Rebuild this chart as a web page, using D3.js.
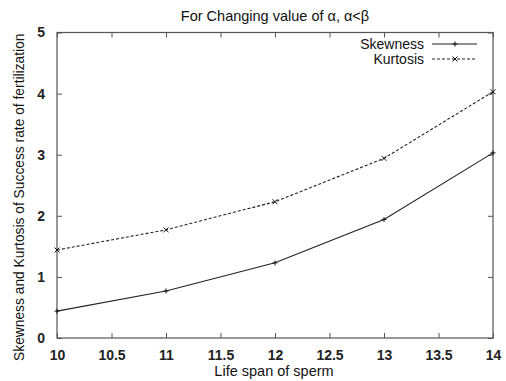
<!DOCTYPE html>
<html>
<head>
<meta charset="utf-8">
<script src="https://cdn.jsdelivr.net/npm/d3@7"></script>
<style>
  body { margin: 0; background: #fff; }
  svg { display: block; font-family: "Liberation Sans", Arial, sans-serif; }
</style>
</head>
<body>
<svg id="chart" width="506" height="381"></svg>
<script>
// Life span of sperm (x) and the measured statistics
const lifeSpan = [10, 11, 12, 13, 14];
const skewness = [0.44, 0.77, 1.23, 1.94, 3.03];
const kurtosis = [1.44, 1.77, 2.23, 2.94, 4.03];
const xTicks = [10, 10.5, 11, 11.5, 12, 12.5, 13, 13.5, 14];
const yTicks = [0, 1, 2, 3, 4, 5];

const svg = d3.select("#chart");
const m = { left: 57, right: 493, top: 32.5, bottom: 338 };

const x = d3.scaleLinear().domain([10, 14]).range([m.left, m.right]);
const y = d3.scaleLinear().domain([0, 5]).range([m.bottom, m.top]);

const axisColor = "#555";
const tickLen = 5;
const font = "Liberation Sans, Arial, sans-serif";

// Frame
svg.append("rect")
  .attr("x", m.left).attr("y", m.top)
  .attr("width", m.right - m.left).attr("height", m.bottom - m.top)
  .attr("fill", "none").attr("stroke", axisColor).attr("stroke-width", 1.2);

// Bottom axis: inward ticks, labels below
const xAxis = svg.append("g").attr("transform", `translate(0,${m.bottom})`)
  .call(d3.axisBottom(x).tickValues(xTicks).tickSizeInner(-tickLen).tickSizeOuter(0)
    .tickPadding(12).tickFormat(d3.format("")));
xAxis.select(".domain").remove();
xAxis.selectAll("line").attr("stroke", axisColor);
xAxis.selectAll("text").attr("font-size", 14).attr("font-weight", "bold")
  .attr("fill", "#222").attr("font-family", font);

// Top mirror ticks
const xTop = svg.append("g").attr("transform", `translate(0,${m.top})`)
  .call(d3.axisTop(x).tickValues(xTicks).tickSizeInner(-tickLen).tickSizeOuter(0).tickFormat(""));
xTop.select(".domain").remove();
xTop.selectAll("line").attr("stroke", axisColor);

// Left axis
const yAxis = svg.append("g").attr("transform", `translate(${m.left},0)`)
  .call(d3.axisLeft(y).tickValues(yTicks).tickSizeInner(-tickLen).tickSizeOuter(0)
    .tickPadding(12).tickFormat(d3.format("d")));
yAxis.select(".domain").remove();
yAxis.selectAll("line").attr("stroke", axisColor);
yAxis.selectAll("text").attr("font-size", 14).attr("font-weight", "bold")
  .attr("fill", "#222").attr("font-family", font);

// Right mirror ticks
const yRight = svg.append("g").attr("transform", `translate(${m.right},0)`)
  .call(d3.axisRight(y).tickValues(yTicks).tickSizeInner(-tickLen).tickSizeOuter(0).tickFormat(""));
yRight.select(".domain").remove();
yRight.selectAll("line").attr("stroke", axisColor);

// Series
const series = [
  { name: "Skewness", values: skewness, dash: null, marker: "plus" },
  { name: "Kurtosis", values: kurtosis, dash: "3,2", marker: "cross" }
];

const line = d3.line().x(d => x(d[0])).y(d => y(d[1]));

function drawMarker(g, cx, cy, type) {
  const s = 2.5;
  const d = type === "plus"
    ? `M${cx - s},${cy}H${cx + s}M${cx},${cy - s}V${cy + s}`
    : `M${cx - s},${cy - s}L${cx + s},${cy + s}M${cx - s},${cy + s}L${cx + s},${cy - s}`;
  g.append("path").attr("d", d)
    .attr("stroke", "#111").attr("stroke-width", 1).attr("fill", "none");
}

series.forEach(s => {
  const pts = lifeSpan.map((v, i) => [v, s.values[i]]);
  const g = svg.append("g");
  g.append("path").datum(pts).attr("d", line)
    .attr("fill", "none").attr("stroke", "#222").attr("stroke-width", 1.1)
    .attr("stroke-dasharray", s.dash);
  pts.forEach(p => drawMarker(g, x(p[0]), y(p[1]), s.marker));
});

// Legend
const legend = svg.append("g");
series.forEach((s, i) => {
  const ly = 44 + i * 15;
  legend.append("text").attr("x", 424).attr("y", ly + 5)
    .attr("text-anchor", "end").attr("font-size", 14).attr("fill", "#111")
    .text(s.name);
  legend.append("line").attr("x1", 432).attr("x2", 477).attr("y1", ly).attr("y2", ly)
    .attr("stroke", "#222").attr("stroke-width", 1.1).attr("stroke-dasharray", s.dash);
  drawMarker(legend, 455, ly, s.marker);
});

// Title and axis labels
svg.append("text").attr("x", 275).attr("y", 21).attr("text-anchor", "middle")
  .attr("font-size", 14.5).attr("fill", "#111").text("For Changing value of α, α<β");

svg.append("text").attr("x", 274).attr("y", 376).attr("text-anchor", "middle")
  .attr("font-size", 14.5).attr("fill", "#111").text("Life span of sperm");

svg.append("text").attr("transform", `translate(24,${(m.top + m.bottom) / 2 + 12}) rotate(-90)`)
  .attr("text-anchor", "middle").attr("font-size", 13.8).attr("fill", "#111")
  .text("Skewness and Kurtosis of Success rate of fertilization");
</script>
</body>
</html>
